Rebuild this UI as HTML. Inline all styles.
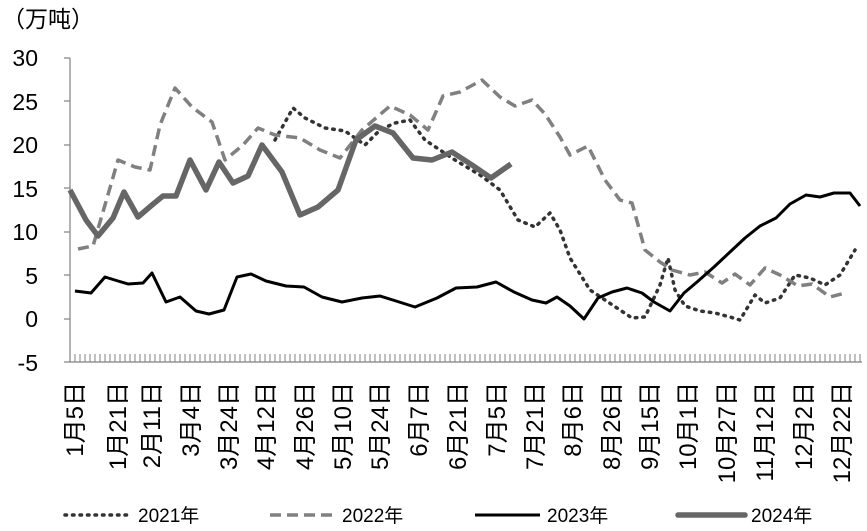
<!DOCTYPE html>
<html><head><meta charset="utf-8"><style>
body{margin:0;background:#fff;}
svg{display:block;font-family:"Liberation Sans","Noto Sans CJK SC",sans-serif;}
</style></head><body>
<svg width="867" height="531" viewBox="0 0 867 531">
<text x="2" y="27" font-size="23" fill="#000">（万吨）</text>
<g font-size="23" fill="#000" text-anchor="end">
<text x="38" y="66">30</text><text x="38" y="110">25</text><text x="38" y="153">20</text>
<text x="38" y="197">15</text><text x="38" y="240">10</text><text x="38" y="284">5</text>
<text x="38" y="327">0</text><text x="38" y="371">-5</text>
</g>
<g stroke="#808080" stroke-width="1.2" fill="none">
<line x1="70" y1="58" x2="70" y2="362"/>
<line x1="64" y1="58" x2="70" y2="58"/><line x1="64" y1="101" x2="70" y2="101"/>
<line x1="64" y1="145" x2="70" y2="145"/><line x1="64" y1="188" x2="70" y2="188"/>
<line x1="64" y1="232" x2="70" y2="232"/><line x1="64" y1="275" x2="70" y2="275"/>
<line x1="64" y1="319" x2="70" y2="319"/><line x1="64" y1="362" x2="70" y2="362"/>
<line x1="70" y1="362" x2="862" y2="362"/>
</g>
<g font-size="24" fill="#000" text-anchor="end">
<text transform="translate(83,382) rotate(-90)">1月5日</text>
<text transform="translate(126,382) rotate(-90)">1月21日</text>
<text transform="translate(160,382) rotate(-90)">2月11日</text>
<text transform="translate(199,382) rotate(-90)">3月4日</text>
<text transform="translate(237,382) rotate(-90)">3月24日</text>
<text transform="translate(274,382) rotate(-90)">4月12日</text>
<text transform="translate(313,382) rotate(-90)">4月26日</text>
<text transform="translate(351,382) rotate(-90)">5月10日</text>
<text transform="translate(388,382) rotate(-90)">5月24日</text>
<text transform="translate(427,382) rotate(-90)">6月7日</text>
<text transform="translate(466,382) rotate(-90)">6月21日</text>
<text transform="translate(505,382) rotate(-90)">7月5日</text>
<text transform="translate(543,382) rotate(-90)">7月21日</text>
<text transform="translate(581,382) rotate(-90)">8月6日</text>
<text transform="translate(620,382) rotate(-90)">8月26日</text>
<text transform="translate(658,382) rotate(-90)">9月15日</text>
<text transform="translate(696,382) rotate(-90)">10月1日</text>
<text transform="translate(735,382) rotate(-90)">10月27日</text>
<text transform="translate(773,382) rotate(-90)">11月12日</text>
<text transform="translate(812,382) rotate(-90)">12月2日</text>
<text transform="translate(850,382) rotate(-90)">12月22日</text>
</g>
<g fill="none" stroke-linejoin="round">
<polyline stroke="#333" stroke-width="3.5" stroke-dasharray="1.5,6" stroke-linecap="round" points="275,140 293,108 305,118 325,128 345,131 365,145 380,130 395,123 410,120 425,140 440,150 455,160 480,175 500,190 518,220 535,227 550,213 560,230 570,258 590,290 605,300 620,310 632,318 645,317 660,285 668,258 675,290 685,306 700,311 715,313 730,317 740,320 755,295 765,303 780,298 795,275 810,278 825,285 840,275 855,250"/>
<polyline stroke="#808080" stroke-width="3.5" stroke-dasharray="11,6" points="78,249 93,246 105,205 118,160 135,167 150,170 160,125 175,88 192,107 212,122 225,160 243,145 258,128 275,135 300,138 320,150 340,158 362,130 390,106 410,115 428,130 443,96 460,92 482,80 500,97 515,106 532,100 545,114 560,137 570,155 588,146 605,180 620,200 632,203 645,250 660,262 672,270 690,275 705,272 722,283 735,274 750,285 765,268 780,275 798,286 812,284 830,297 845,293"/>
<polyline stroke="#000" stroke-width="3" points="75,291 91,293 105,277 118,281 128,284 143,283 152,273 166,302 180,297 196,311 209,314 224,310 237,277 251,274 266,281 286,286 304,287 322,297 342,302 362,298 380,296 396,301 415,307 437,298 456,288 477,287 496,282 514,292 532,300 546,303 557,297 570,306 584,319 598,298 612,292 627,288 642,293 654,302 670,311 684,293 697,282 714,267 730,252 745,238 760,226 776,218 790,204 806,195 820,197 834,193 850,193 860,206"/>
<polyline stroke="#666" stroke-width="5.5" points="70,190 86,220 98,236 113,218 124,192 138,217 152,205 163,196 176,196 190,160 206,190 219,162 233,183 248,176 262,145 282,172 300,215 318,207 338,190 356,140 375,126 393,133 413,158 432,160 452,152 472,165 491,178 511,164"/>
</g>
<g fill="none">
<line x1="65" y1="515" x2="130" y2="515" stroke="#333" stroke-width="3.5" stroke-dasharray="1.5,6" stroke-linecap="round"/>
<line x1="270" y1="515" x2="335" y2="515" stroke="#808080" stroke-width="3.5" stroke-dasharray="11,6"/>
<line x1="475" y1="515" x2="540" y2="515" stroke="#000" stroke-width="3"/>
<line x1="678" y1="515" x2="745" y2="515" stroke="#666" stroke-width="5.5" stroke-linecap="round"/>
</g>
<g font-size="19" fill="#000">
<text x="138" y="522">2021年</text><text x="342" y="522">2022年</text>
<text x="547" y="522">2023年</text><text x="751" y="522">2024年</text>
</g>
<g stroke="#808080" stroke-width="1">
<path d="M70,354V362M75,354V362M80,354V362M85,354V362M90,354V362M95,354V362M100,354V362M105,354V362M110,354V362M115,354V362M120,354V362M125,354V362M130,354V362M135,354V362M140,354V362M145,354V362M150,354V362M155,354V362M160,354V362M165,354V362M170,354V362M175,354V362M180,354V362M185,354V362M190,354V362M195,354V362M200,354V362M205,354V362M210,354V362M215,354V362M220,354V362M225,354V362M230,354V362M235,354V362M240,354V362M245,354V362M250,354V362M255,354V362M260,354V362M265,354V362M270,354V362M275,354V362M280,354V362M285,354V362M290,354V362M295,354V362M300,354V362M305,354V362M310,354V362M315,354V362M320,354V362M325,354V362M330,354V362M335,354V362M340,354V362M345,354V362M350,354V362M355,354V362M360,354V362M365,354V362M370,354V362M375,354V362M380,354V362M385,354V362M390,354V362M395,354V362M400,354V362M405,354V362M410,354V362M415,354V362M420,354V362M425,354V362M430,354V362M435,354V362M440,354V362M445,354V362M450,354V362M455,354V362M460,354V362M465,354V362M470,354V362M475,354V362M480,354V362M485,354V362M490,354V362M495,354V362M500,354V362M505,354V362M510,354V362M515,354V362M520,354V362M525,354V362M530,354V362M535,354V362M540,354V362M545,354V362M550,354V362M555,354V362M560,354V362M565,354V362M570,354V362M575,354V362M580,354V362M585,354V362M590,354V362M595,354V362M600,354V362M605,354V362M610,354V362M615,354V362M620,354V362M625,354V362M630,354V362M635,354V362M640,354V362M645,354V362M650,354V362M655,354V362M660,354V362M665,354V362M670,354V362M675,354V362M680,354V362M685,354V362M690,354V362M695,354V362M700,354V362M705,354V362M710,354V362M715,354V362M720,354V362M725,354V362M730,354V362M735,354V362M740,354V362M745,354V362M750,354V362M755,354V362M760,354V362M765,354V362M770,354V362M775,354V362M780,354V362M785,354V362M790,354V362M795,354V362M800,354V362M805,354V362M810,354V362M815,354V362M820,354V362M825,354V362M830,354V362M835,354V362M840,354V362M845,354V362M850,354V362M855,354V362M860,354V362"/>
</g>
</svg>
</body></html>
